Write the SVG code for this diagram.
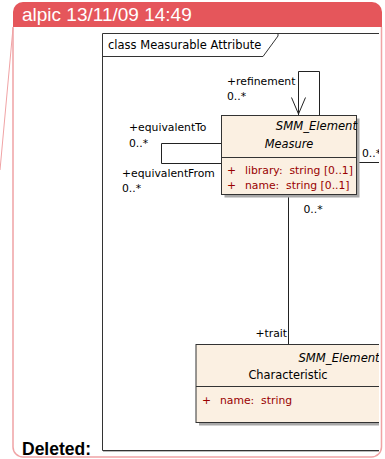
<svg xmlns="http://www.w3.org/2000/svg" width="385" height="459" viewBox="0 0 385 459">
<style>
.t{font-family:"DejaVu Sans",Verdana,sans-serif;font-size:10.8px;fill:#000;white-space:pre}
.i{font-style:italic}
.a{fill:#990000}
.box{fill:#FBF0E2;stroke:#333;stroke-width:1}
.sh{fill:#A8A8A8}
.ln{fill:none;stroke:#222;stroke-width:1}
</style>
<defs>
<clipPath id="cl"><rect x="0" y="0" width="379" height="459"/></clipPath>
</defs>
<rect width="385" height="459" fill="#fff"/>
<g id="note">
<path d="M13 27 V447 A10 10 0 0 0 23 457 H371.5 A10 10 0 0 0 381.5 447 V27" fill="none" stroke="#F0A3A5" stroke-width="1.5"/>
<line x1="13" y1="28" x2="0" y2="170" stroke="#F0A3A5" stroke-width="1"/>
<path d="M13 27 V12 A10 10 0 0 1 23 2 H372 A10 10 0 0 1 382 12 V27 Z" fill="#E5565B"/>
<text x="22" y="20.5" font-family="Liberation Sans,Arial,sans-serif" font-size="19" fill="#fff">alpic 13/11/09 14:49</text>
<text x="22" y="455" font-family="Liberation Sans,Arial,sans-serif" font-size="17.5" font-weight="bold" fill="#000">Deleted:</text>
</g>
<g clip-path="url(#cl)">
<g id="frame">
<path d="M102.5 450.5 V33.5 H385" fill="none" stroke="#333" stroke-width="1"/>
<path d="M102.5 450.5 H385" fill="none" stroke="#333" stroke-width="1"/>
<path d="M103 451.5 H385" fill="none" stroke="#bbb" stroke-width="1"/>
<polyline points="102.5,56.5 263,56.5 278,36 278,33.5" fill="none" stroke="#333" stroke-width="1"/>
<text class="t" x="108" y="49" style="font-size:11.5px">class Measurable Attribute</text>
</g>
<g id="connectors">
<path class="ln" d="M298.5 115 V71.5 H319.5 V115"/>
<polyline class="ln" points="291.5,97.5 298.5,114 305.5,97.5"/>
<path class="ln" d="M221 143.5 H161.5 V163.5 H221"/>
<path class="ln" d="M357 162.5 H385"/>
<path class="ln" d="M288.5 195 V344"/>
<text class="t" x="227" y="85">+refinement</text>
<text class="t" x="227" y="100">0..*</text>
<text class="t" x="129" y="131">+equivalentTo</text>
<text class="t" x="129" y="146.5">0..*</text>
<text class="t" x="122" y="177">+equivalentFrom</text>
<text class="t" x="122" y="192">0..*</text>
<text class="t" x="362" y="157">0..*</text>
<text class="t" x="303.5" y="213">0..*</text>
<text class="t" x="287" y="337" text-anchor="end">+trait</text>
</g>
<g id="measure">
<rect class="sh" x="224.5" y="118.5" width="135" height="79"/>
<rect class="box" x="221.5" y="115.5" width="135" height="79"/>
<line x1="221.5" y1="157.5" x2="356.5" y2="157.5" stroke="#333"/>
<text class="t i" x="357" y="130" text-anchor="end" style="font-size:11.6px">SMM_Element</text>
<text class="t i" x="289" y="148" text-anchor="middle" style="font-size:11.4px">Measure</text>
<text class="t a" x="227" y="173.5">+</text>
<text class="t a" x="245" y="173.5">library:  string [0..1]</text>
<text class="t a" x="227" y="189">+</text>
<text class="t a" x="245" y="189">name:  string [0..1]</text>
</g>
<g id="characteristic">
<rect class="sh" x="199" y="347.5" width="190" height="78"/>
<rect class="box" x="196" y="344.5" width="190" height="78"/>
<line x1="196" y1="386.5" x2="386" y2="386.5" stroke="#333"/>
<text class="t i" x="298.5" y="361.5" style="font-size:11.6px">SMM_Element</text>
<text class="t" x="288" y="378.5" text-anchor="middle" style="font-size:11.4px">Characteristic</text>
<text class="t a" x="202" y="403.5">+</text>
<text class="t a" x="220" y="403.5">name:  string</text>
</g>
</g>
</svg>
